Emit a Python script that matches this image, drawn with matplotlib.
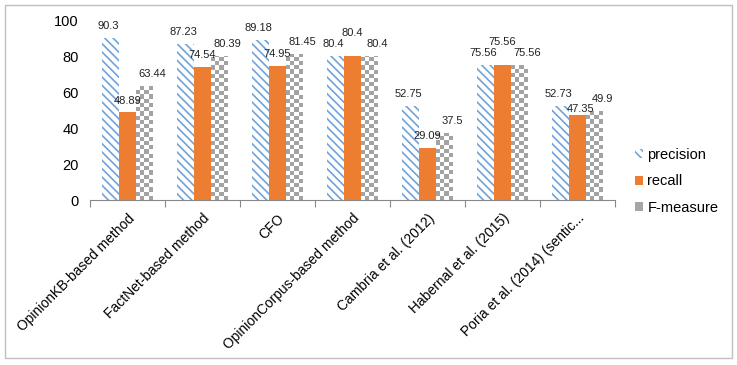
import matplotlib
matplotlib.use("Agg")
import matplotlib.pyplot as plt
import numpy as np
from matplotlib.patches import Rectangle
from matplotlib.colors import ListedColormap

plt.rcParams['font.family'] = ['Liberation Sans', 'DejaVu Sans']
plt.rcParams['hatch.linewidth'] = 1.2

categories = ["OpinionKB-based method", "FactNet-based method", "CFO",
              "OpinionCorpus-based method", "Cambria et al. (2012)",
              "Habernal et al. (2015)", "Poria et al. (2014) (sentic..."]
precision = [90.3, 87.23, 89.18, 80.4, 52.75, 75.56, 52.73]
recall = [48.89, 74.54, 74.95, 80.4, 29.09, 75.56, 47.35]
fmeasure = [63.44, 80.39, 81.45, 80.4, 37.5, 75.56, 49.9]

fig = plt.figure(figsize=(7.37, 3.65), dpi=100)
ax = fig.add_axes([90/737, 1-200/365, (615-90)/737, (200-21)/365])

x = np.arange(len(categories))
w = 0.223
bp = ax.bar(x - w, precision, w, facecolor='white', edgecolor='#6FA3DA',
            hatch='\\\\\\\\', linewidth=0, label='precision')
br = ax.bar(x, recall, w, color='#ED7D31', label='recall')
bf = ax.bar(x + w, fmeasure, w, facecolor='#A6A6A6', edgecolor='none', label='F-measure')

# checkerboard fill for F-measure
cmap = ListedColormap(['#FFFFFF', '#A3A3A3'])
cell_h = 2.35
for b in bf:
    x0, y0 = b.get_x(), b.get_y()
    bw, bh = b.get_width(), b.get_height()
    n = int(np.ceil(bh / cell_h))
    img = np.indices((n, 4)).sum(axis=0) % 2
    im = ax.imshow(img, cmap=cmap, extent=(x0, x0 + bw, y0, y0 + n * cell_h),
                   aspect='auto', interpolation='nearest', origin='lower', zorder=2)
    im.set_clip_path(b)

for i in range(len(categories)):
    p, r, f = precision[i], recall[i], fmeasure[i]
    if min(abs(r - p), abs(r - f)) < 6 and r >= min(p, f):
        rdy, rdx = 13, 0
    elif 0 < p - r < 8:
        rdy, rdx = 1, 2
    else:
        rdy, rdx = 5, 0
    specs = [(bp[i], p, -2, 5), (br[i], r, rdx, rdy), (bf[i], f, 6, 5)]
    for b, v, dx, dy in specs:
        ax.annotate(f"{v:g}", (b.get_x() + b.get_width() / 2, v), xytext=(dx, dy),
                    textcoords='offset points', ha='center', va='bottom', fontsize=8,
                    color='#222222')

ax.set_xlim(-0.5, len(categories) - 0.5)
ax.set_ylim(0, 100)
ax.set_yticks([0, 20, 40, 60, 80, 100])
ax.tick_params(axis='y', length=0, labelsize=10.5, pad=8)
ax.set_xticks(np.arange(-0.5, len(categories) + 0.5, 1), minor=False)
ax.set_xticklabels([])
ax.set_xticks(x, minor=True)
ax.set_xticklabels(categories, minor=True, rotation=45, ha='right',
                   rotation_mode='anchor', fontsize=10)
ax.tick_params(axis='x', which='major', length=5, color='#888888')
ax.tick_params(axis='x', which='minor', length=0, pad=8)
for s in ('top', 'right', 'left'):
    ax.spines[s].set_visible(False)
ax.spines['bottom'].set_color('#888888')

leg = ax.legend(loc='upper left', bbox_to_anchor=(635/737, 1-148/365),
                bbox_transform=fig.transFigure, frameon=False, borderaxespad=0,
                borderpad=0, fontsize=10.5, handlelength=0.55, handleheight=0.6,
                handletextpad=0.3, labelspacing=0.85)

fig.patches.append(Rectangle((5/737, 7/365), 727/737, 353/365, transform=fig.transFigure,
                             fill=False, edgecolor='#BFBFBF', linewidth=1))

fig.savefig('out.png', dpi=100)
